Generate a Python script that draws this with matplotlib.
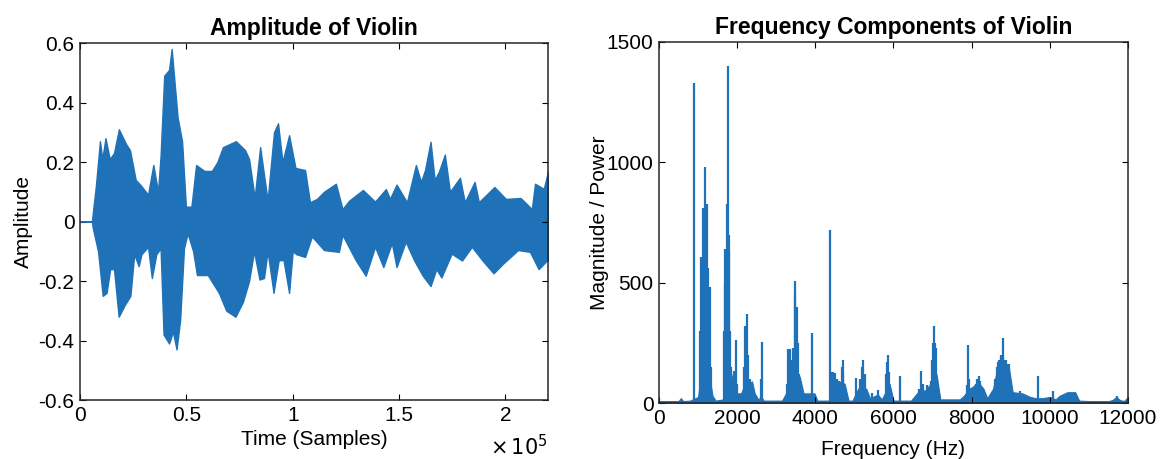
import numpy as np
import matplotlib.pyplot as plt

plt.rcParams['font.family'] = ['Liberation Sans', 'DejaVu Sans']

BLUE = '#1f72b8'

# ---- left panel: waveform envelope (samples, amplitude) ----
upper_samples = [0, 5600, 7500, 9400, 10500, 12000, 14000, 16000, 18300, 21700, 23500,
                 26200, 28800, 32000, 34500, 36700, 37900, 39600, 41900, 43100, 45900,
                 48000, 49800, 52400, 54600, 58500, 62000, 64600, 67200, 73300, 77600,
                 79500, 82100, 84700, 88200, 91200, 93100, 95200, 98300, 101300, 105800,
                 108100, 111400, 114700, 120300, 123400, 126500, 133000, 138700, 143800,
                 145700, 148800, 153700, 157900, 160300, 162200, 164800, 166700, 168700,
                 171500, 173900, 178600, 180900, 185500, 187500, 194800, 200200, 207100,
                 212400, 213900, 218000, 220000]
upper_amp = [0.0, 0.0, 0.12, 0.27, 0.21, 0.28, 0.21, 0.23, 0.31, 0.26, 0.24,
             0.14, 0.12, 0.09, 0.19, 0.10, 0.22, 0.49, 0.51, 0.58, 0.35,
             0.27, 0.05, 0.05, 0.19, 0.17, 0.17, 0.20, 0.25, 0.27, 0.24,
             0.21, 0.08, 0.25, 0.07, 0.30, 0.33, 0.20, 0.29, 0.18, 0.173,
             0.065, 0.076, 0.10, 0.127, 0.042, 0.07, 0.106, 0.067, 0.109,
             0.076, 0.124, 0.065, 0.19, 0.133, 0.173, 0.268, 0.14, 0.167,
             0.225, 0.10, 0.147, 0.065, 0.133, 0.065, 0.116, 0.076, 0.079,
             0.042, 0.127, 0.11, 0.167]

lower_samples = [0, 5600, 6000, 8500, 10700, 12500, 14200, 16000, 18200, 21100, 23700,
                 25500, 27600, 28900, 32000, 33800, 35900, 37900, 39300, 41900, 43700,
                 45400, 47100, 48900, 50600, 53200, 55000, 60100, 65300, 68800, 73100,
                 76600, 79500, 81800, 84400, 86500, 88200, 91000, 93400, 95700, 98300,
                 100000, 101700, 105800, 109000, 114700, 121700, 123400, 129700, 134300,
                 138700, 142600, 146600, 148800, 153100, 157100, 161100, 164800, 167500,
                 169900, 174700, 179600, 184200, 189200, 194400, 198800, 205900, 211500,
                 215600, 219500, 220000]
lower_amp = [0.0, 0.0, -0.02, -0.10, -0.25, -0.24, -0.16, -0.16, -0.32, -0.28, -0.25,
             -0.11, -0.15, -0.11, -0.085, -0.19, -0.11, -0.09, -0.38, -0.41, -0.37,
             -0.43, -0.33, -0.09, -0.04, -0.10, -0.18, -0.18, -0.24, -0.30, -0.32,
             -0.27, -0.20, -0.10, -0.195, -0.19, -0.10, -0.24, -0.13, -0.13, -0.24,
             -0.10, -0.11, -0.119, -0.05, -0.096, -0.102, -0.045, -0.131, -0.182,
             -0.085, -0.153, -0.072, -0.153, -0.068, -0.131, -0.182, -0.217, -0.16,
             -0.188, -0.108, -0.131, -0.085, -0.131, -0.174, -0.142, -0.096, -0.102,
             -0.16, -0.131, -0.131]

# ---- right panel: spectrum (Hz, magnitude) ----
peak_freqs = [885,
              1060, 1080, 1100, 1123, 1140, 1160, 1183, 1200, 1225, 1250, 1270, 1290, 1310, 1330,
              1660, 1685, 1700, 1720, 1745, 1762, 1780, 1800, 1820, 1850,
              1930, 1966, 1990,
              2170, 2204, 2225, 2247, 2270, 2300, 2340, 2380,
              2610, 2630,
              3280, 3310, 3350, 3380, 3410, 3440, 3472, 3490, 3523, 3550, 3580,
              3906,
              4380, 4420, 4460, 4500, 4550, 4600, 4680, 4700, 4720,
              5050, 5150, 5190, 5225, 5260, 5300, 5450, 5605,
              5800, 5830, 5864, 5890, 6180,
              6650, 6704, 6750, 6866, 6950, 6990, 7020, 7040, 7060, 7087, 7110,
              7880, 7917, 7940,
              8100, 8150, 8185, 8220, 8280,
              8600, 8650, 8680, 8710, 8740, 8760, 8790, 8805, 8830, 8860, 8890, 8920, 8950,
              9235, 9693, 10075, 11720]
peak_mags = [1330,
             300, 605, 400, 812, 650, 750, 980, 700, 826, 560, 300, 200, 480, 150,
             300, 640, 500, 520, 826, 1402, 700, 633, 300, 150,
             135, 262, 80,
             150, 322, 250, 370, 200, 100, 100, 80,
             100, 253,
             80, 225, 225, 150, 180, 230, 508, 450, 398, 250, 120,
             290,
             718, 130, 130, 125, 100, 90, 150, 180, 120,
             104, 100, 150, 180, 120, 60, 40, 55,
             120, 170, 200, 130, 111,
             60, 132, 80, 76, 90, 180, 250, 320, 250, 230, 100,
             76, 239, 100,
             80, 100, 111, 90, 60,
             100, 150, 170, 180, 190, 200, 190, 271, 180, 180, 180, 160, 160,
             49, 111, 49, 28]

floor_freqs = [0, 500, 560, 620, 800, 860, 1000, 1050, 1300, 1370, 1450, 1650,
               1850, 1950, 2100, 2150, 2380, 2450, 2550, 2600, 2680, 3150, 3250,
               3600, 3700, 3850, 3980, 4050, 4350, 4450, 4750, 4850, 4950, 5100,
               5300, 5400, 5600, 5700, 5780, 5900, 6000, 6450, 6550, 6700, 6800,
               6950, 7100, 7200, 7700, 7800, 7950, 8050, 8150, 8300, 8400, 8550,
               8650, 8950, 9050, 9300, 9500, 9650, 9800, 10000, 10150, 10250,
               10450, 10650, 10750, 11000, 11500, 11600, 11700, 11800, 11900, 12000]
floor_mags = [8, 8, 20, 8, 10, 15, 25, 90, 100, 30, 10, 15,
              120, 40, 40, 60, 90, 40, 12, 30, 10, 10, 40,
              110, 40, 40, 40, 10, 10, 100, 80, 10, 10, 60,
              60, 20, 35, 15, 40, 80, 10, 10, 30, 60, 50,
              80, 120, 15, 15, 30, 60, 70, 90, 60, 20, 60,
              140, 150, 45, 40, 25, 20, 20, 25, 15, 30,
              45, 45, 10, 8, 8, 12, 25, 12, 8, 25]


def style_axes(ax):
    ax.tick_params(direction='in', length=4, width=0.8, top=True, right=True,
                   labelsize=15)
    ax.tick_params(axis='x', pad=4)
    ax.tick_params(axis='y', pad=4)
    for s in ax.spines.values():
        s.set_linewidth(1.1)
        s.set_color('#262626')


fig = plt.figure(figsize=(11.62, 4.59), dpi=100)

ax1 = fig.add_axes([0.0688, 0.1285, 0.4028, 0.7778])
ax1.fill_between(upper_samples, 0, upper_amp, color=BLUE, lw=1.0, edgecolor=BLUE)
ax1.fill_between(lower_samples, 0, lower_amp, color=BLUE, lw=1.0, edgecolor=BLUE)
ax1.plot([0, 5600], [0, 0], color=BLUE, lw=1.2)
ax1.set_xlim(0, 220000)
ax1.set_ylim(-0.6, 0.6)
ax1.set_xticks([0, 50000, 100000, 150000, 200000])
ax1.set_xticklabels(['0', '0.5', '1', '1.5', '2'])
ax1.set_yticks([-0.6, -0.4, -0.2, 0, 0.2, 0.4, 0.6])
ax1.set_yticklabels(['-0.6', '-0.4', '-0.2', '0', '0.2', '0.4', '0.6'])
style_axes(ax1)
ax1.set_title('Amplitude of Violin', fontsize=16.5, fontweight='bold', pad=6)
ax1.set_ylabel('Amplitude', fontsize=15, labelpad=4)
ax1.set_xlabel('Time (Samples)', fontsize=15, labelpad=4)
ax1.text(1.0, -0.095, r'$\times\,10^{5}$', transform=ax1.transAxes,
         ha='right', va='top', fontsize=15)

ax2 = fig.add_axes([0.5671, 0.122, 0.4036, 0.7865])
ax2.fill_between(floor_freqs, 0, floor_mags, color=BLUE, lw=0.8, edgecolor=BLUE)
ax2.vlines(peak_freqs, 0, peak_mags, color=BLUE, lw=1.6)
ax2.set_xlim(0, 12000)
ax2.set_ylim(0, 1500)
ax2.set_xticks(np.arange(0, 12001, 2000))
ax2.set_yticks([0, 500, 1000, 1500])
style_axes(ax2)
ax2.set_title('Frequency Components of Violin', fontsize=16.5, fontweight='bold', pad=6)
ax2.set_ylabel('Magnitude / Power', fontsize=15, labelpad=-2)
ax2.set_xlabel('Frequency (Hz)', fontsize=15, labelpad=9)

fig.savefig('out.png', dpi=100)
